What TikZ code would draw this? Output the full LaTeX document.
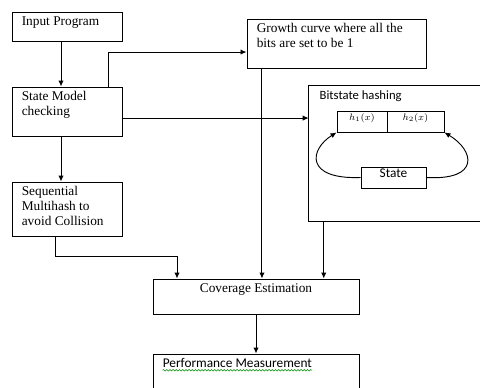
\documentclass[tikz,border=0pt]{standalone}
\usepackage{fontspec}
\setmainfont{Liberation Serif}
\newfontfamily\calibrifont{Carlito}
\usetikzlibrary{arrows.meta,fit,decorations.pathmorphing}

\begin{document}
\begin{tikzpicture}[x=0.75pt,y=-0.75pt,
    box/.style={draw, line width=0.7pt, inner sep=0pt},
    txt/.style={anchor=north west, inner xsep=7.5pt, inner ysep=3.5pt, align=left,
        font=\fontsize{10}{11}\selectfont},
    arr/.style={-{Latex[length=4.5pt,width=4pt]}, line width=0.7pt},
    spell/.style={green!55!black, line width=0.4pt, decorate,
        decoration={snake, amplitude=0.6pt, segment length=2.4pt}}]

    % ===== 画布 =====
    \useasboundingbox (0,0) rectangle (480,387);
    \clip (0,0) rectangle (480,387);

    % ===== 左列 =====
    \node[box, fit={(12,12) (122,41)},
        label={[txt,name=input-t]north west:Input Program}] (input) {};
    \node[box, fit={(12,87) (122,136)},
        label={[txt,name=smc-t]north west:State Model\\checking}] (smc) {};
    \node[box, fit={(12,182) (122,236)},
        label={[txt,name=seq-t]north west:Sequential\\Multihash to\\avoid Collision}] (seq) {};

    % ===== 右侧 =====
    \node[box, fit={(247,19) (426,68)},
        label={[txt,name=growth-t]north west:Growth curve where all the\\bits are set to be 1}] (growth) {};
    % 右边框在画面之外
    \node[inner sep=0pt, fit={(309,86) (540,221)},
        label={[txt,name=bsh-t,font=\calibrifont\fontsize{9.5}{11}\selectfont,inner xsep=8pt]north west:Bitstate hashing}] (bsh) {};
    \draw[line width=0.7pt] (bsh.north east) -- (bsh.north west) -- (bsh.south west) -- (bsh.south east);

    % 哈希位
    \node[box, fit={(337,111) (387,132)}, font=\scriptsize] (h1) {$h_1(x)$};
    \node[box, fit={(387,111) (444,132)}, font=\scriptsize] (h2) {$h_2(x)$};
    \node[box, fit={(361,167) (426,188)}, font=\calibrifont] (st) {State};

    % ===== 下方 =====
    \node[box, fit={(153,279) (359,314)},
        label={[txt,anchor=north,name=cov-t]north:Coverage Estimation}] (cov) {};
    \node[box, fit={(153,354) (359,400)},
        label={[txt,name=perf-t,font=\calibrifont\fontsize{10}{11}\selectfont]north west:Performance Measurement}] (perf) {};
    \draw[spell] ([shift={(7.5pt,-2pt)}]perf-t.base west) -- ([shift={(-7.5pt,-2pt)}]perf-t.base east);

    % ===== 连线 =====
    \draw[arr] ([xshift=-4.5pt]input.south) -- ([xshift=-4.5pt]smc.north);
    \draw[arr] ([xshift=-4.5pt]smc.south) -- ([xshift=-4.5pt]seq.north);
    \draw[arr] ([xshift=30.75pt]smc.north) |- ([yshift=-6.4pt]growth.west);
    \draw[arr] ([yshift=-4.9pt]smc.east) -- ([yshift=-4.9pt]smc.east -| bsh.west);

    \draw[arr] ([xshift=-9pt]seq.south) -- ++(0,20) -| ([xshift=-59.25pt]cov.north);
    \draw[arr] ([xshift=-55.9pt]growth.south) -- ([xshift=-55.9pt]growth.south |- cov.north);
    \draw[arr] ([xshift=11.25pt]bsh.south west) -- ([xshift=11.25pt]bsh.south west |- cov.north);
    \draw[arr] (cov.south) -- (perf.north);

    % 状态到哈希位
    \draw[arr] (st.west) .. controls +(-56,2) and +(-27,17) .. (h1.south west);
    \draw[arr] (st.east) .. controls +(54,3) and +(30,18) .. (h2.south east);

\end{tikzpicture}
\end{document}
